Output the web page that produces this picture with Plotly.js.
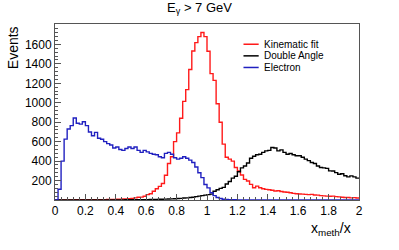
<!DOCTYPE html>
<html>
<head>
<meta charset="utf-8">
<script src="https://cdn.plot.ly/plotly-3.0.1.min.js"></script>
<style>
html,body{margin:0;padding:0;background:#fff;}
#chart{width:399px;height:250px;}
</style>
</head>
<body>
<div id="chart"></div>
<script>
// Histogram binning: 100 bins from 0 to 2
const binLow = 0;
const binHigh = 2;
const nBins = 100;

const seriesNames = ["Kinematic fit", "Double Angle", "Electron"];
const seriesColors = ["#ff1a1a", "#000000", "#2020c0"];

const kinematicFit = [
  0,0,1,1,1,1,2,2,2,2, 3,3,3,3,4,4,4,5,5,6,
  7,8,10,12,14,17,22,28,30,38, 55,64,90,116,140,170,254,375,445,600,
  690,841,1014,1135,1342,1532,1618,1680,1722,1680, 1530,1300,1230,990,800,575,440,420,400,334,
  298,257,212,195,161,126,143,126,115,109, 105,100,92,95,88,82,80,75,68,64,
  62,60,58,55,58,52,50,45,42,40, 38,40,35,32,28,25,26,22,24,20
];

const doubleAngle = [
  0,0,0,0,0,0,0,0,0,0, 0,0,0,0,1,1,1,1,1,1,
  1,1,1,2,2,2,2,3,3,4, 4,5,5,6,7,8,9,10,12,13,
  15,17,20,22,25,29,35,40,45,50, 55,60,90,105,120,130,165,190,225,245,
  290,330,350,380,430,450,465,470,490,505, 510,540,535,505,515,490,470,478,465,455,
  455,440,420,405,385,375,350,335,330,325, 300,298,282,265,270,250,238,248,238,225
];

const electron = [
  0,110,400,626,730,765,843,790,780,805, 765,700,660,695,635,625,600,580,565,535,
  545,520,510,530,545,530,545,510,490,510, 495,480,470,465,445,435,480,490,470,435,
  420,430,445,430,410,385,340,280,230,160, 125,75,45,25,15,8,5,3,2,2,
  1,1,1,0,0,0,0,0,0,0, 0,0,0,0,0,0,0,0,0,0,
  0,0,0,0,0,0,0,0,0,0, 0,0,0,0,0,0,0,0,0,0
];

const xTickVals = [0,0.2,0.4,0.6,0.8,1,1.2,1.4,1.6,1.8,2];
const xTickText = ["0","0.2","0.4","0.6","0.8","1","1.2","1.4","1.6","1.8","2"];
const yTickVals = [200,400,600,800,1000,1200,1400,1600];
const yTickText = ["200","400","600","800","1000","1200","1400","1600"];

const binWidth = (binHigh - binLow) / nBins;
const edges = [];
for (let i = 0; i <= nBins; i++) edges.push(binLow + i * binWidth);

function stepTrace(vals, name, color) {
  return {
    type: "scatter",
    mode: "lines",
    x: edges,
    y: vals.concat([vals[vals.length - 1]]),
    name: name,
    line: {shape: "hv", color: color, width: 1.4},
    showlegend: false,
    hoverinfo: "skip"
  };
}

const allSeries = [kinematicFit, doubleAngle, electron];
const traces = allSeries.map((s, i) => stepTrace(s, seriesNames[i], seriesColors[i]));

const font = "Liberation Sans, Arial, Helvetica, sans-serif";

// legend built from series names / colours
const legX0 = 0.62, legRowH = 0.066, legY0 = 0.885;
const shapes = [];
const annotations = [];
seriesNames.forEach((n, i) => {
  const yy = legY0 - i * legRowH;
  shapes.push({type: "line", xref: "paper", yref: "paper",
    x0: legX0, x1: legX0 + 0.05, y0: yy, y1: yy,
    line: {color: seriesColors[i], width: 1.5}});
  annotations.push({xref: "paper", yref: "paper", x: legX0 + 0.062, y: yy,
    xanchor: "left", yanchor: "middle", showarrow: false,
    text: n, font: {family: font, size: 10, color: "#000"}});
});
annotations.push({xref: "paper", yref: "paper", x: -0.172, y: 1.0,
  xanchor: "left", yanchor: "top", textangle: -90, showarrow: false,
  text: "Events", font: {family: font, size: 14, color: "#000"}});
annotations.push({xref: "paper", yref: "paper", x: 0.979, y: -0.1,
  xanchor: "right", yanchor: "top", showarrow: false,
  text: "x<sub>meth</sub>/x", font: {family: font, size: 14, color: "#000"}});

const layout = {
  width: 399, height: 250,
  margin: {l: 55, r: 40, t: 24, b: 50},
  paper_bgcolor: "#fff", plot_bgcolor: "#fff",
  font: {family: font, size: 12, color: "#000"},
  title: {text: "E<sub>γ</sub> > 7 GeV", x: 0.5, xref: "container",
    y: 0.99, yref: "container", yanchor: "top",
    font: {family: font, size: 13, color: "#000"}},
  xaxis: {range: [binLow, binHigh], showgrid: false, zeroline: false,
    showline: true, mirror: true, linecolor: "#555", linewidth: 1,
    ticks: "inside", ticklen: 6, tickcolor: "#555",
    tickvals: xTickVals, ticktext: xTickText,
    minor: {dtick: 0.04, ticks: "inside", ticklen: 3, tickcolor: "#555"},
    tickfont: {family: font, size: 12}},
  yaxis: {range: [0, 1810], showgrid: false, zeroline: false,
    showline: true, mirror: true, linecolor: "#555", linewidth: 1,
    ticks: "inside", ticklen: 6, tickcolor: "#555",
    tickvals: yTickVals, ticktext: yTickText,
    minor: {dtick: 40, ticks: "inside", ticklen: 3, tickcolor: "#555"},
    tickfont: {family: font, size: 12}},
  shapes: shapes,
  annotations: annotations,
  showlegend: false
};

Plotly.newPlot("chart", traces, layout, {staticPlot: true, displayModeBar: false});
</script>
</body>
</html>
